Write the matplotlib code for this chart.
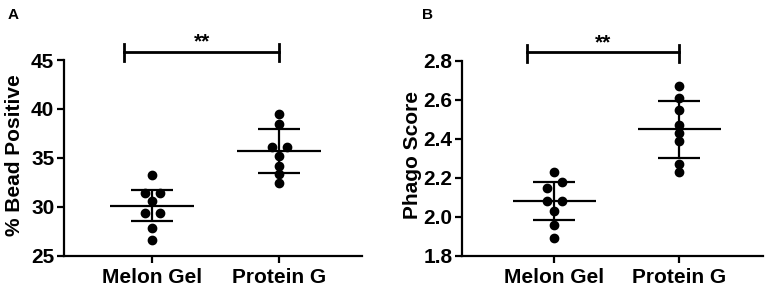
import numpy as np
import matplotlib; matplotlib.use("Agg")
import matplotlib.pyplot as plt
from matplotlib.transforms import blended_transform_factory

plt.rcParams.update({
    "font.family": ["Liberation Sans", "DejaVu Sans"], "font.weight": "bold", "font.size": 15,
    "axes.linewidth": 1.6, "xtick.major.width": 1.6, "ytick.major.width": 1.6,
    "xtick.major.size": 5, "ytick.major.size": 5,
    "axes.spines.top": False, "axes.spines.right": False,
})

groups = ["Melon Gel", "Protein G"]
# panel A: % bead positive
bead_melon = [33.2, 31.4, 31.4, 30.6, 29.4, 29.4, 27.8, 26.6]
bead_protg = [39.5, 38.5, 36.1, 36.1, 35.2, 34.2, 33.4, 32.4]
bead_mean = [30.1, 35.7]
bead_sd = [1.6, 2.2]
# panel B: phago score
phago_melon = [2.23, 2.18, 2.15, 2.08, 2.08, 2.03, 1.96, 1.89]
phago_protg = [2.67, 2.61, 2.55, 2.47, 2.43, 2.39, 2.27, 2.23]
phago_mean = [2.08, 2.45]
phago_sd = [0.097, 0.147]

def swarm_x(vals, px_per_unit, diam=7.0, dx=0.06):
    # spread points horizontally when they would overlap vertically
    v = np.sort(np.asarray(vals))
    xs = np.zeros(len(v)); i = 0
    while i < len(v):
        j = i
        while j + 1 < len(v) and (v[j+1] - v[j]) * px_per_unit < diam: j += 1
        n = j - i + 1
        xs[i:j+1] = (np.arange(n) - (n - 1) / 2) * 2 * dx
        i = j + 1
    return v, xs

def panel(ax, data, mean, sd, ylim, yticks, tick_fmt, bar_y):
    ppu = 195.5 / (ylim[1] - ylim[0])
    for k, vals in enumerate(data):
        v, xo = swarm_x(vals, ppu)
        ax.plot(k + xo, v, "o", color="black", ms=6, zorder=5, clip_on=False)
    x = np.arange(len(groups))
    ax.errorbar(x, mean, yerr=sd, fmt="none", ecolor="black", elinewidth=1.6,
                capsize=15, capthick=1.6, zorder=3)
    ax.hlines(mean, x - 0.33, x + 0.33, color="black", lw=1.6, zorder=3)
    ax.set_xticks(x); ax.set_xticklabels(groups)
    ax.set_ylim(*ylim); ax.set_yticks(yticks)
    ax.yaxis.set_major_formatter(plt.FormatStrFormatter(tick_fmt))
    ax.tick_params(axis="y", pad=2); ax.tick_params(axis="x", pad=4)
    tr = blended_transform_factory(ax.transData, ax.transAxes)
    ax.plot([-0.22, 1.0], [bar_y, bar_y], color="black", lw=2, transform=tr, clip_on=False)
    for xe in (-0.22, 1.0):
        ax.plot([xe, xe], [0.995, 1.08], color="black", lw=2, transform=tr, clip_on=False)
    ax.text(0.39, bar_y + 0.05, "**", ha="center", va="center", fontsize=15,
            fontweight="bold", transform=tr)

fig = plt.figure(figsize=(7.65, 2.88), dpi=100)
axA = fig.add_axes([64 / 765, 32.3 / 288, 297.7 / 765, 195.7 / 288])
axB = fig.add_axes([462 / 765, 32.3 / 288, 301.3 / 765, 194.7 / 288])

panel(axA, [bead_melon, bead_protg], bead_mean, bead_sd, (25, 45), [25, 30, 35, 40, 45],
      "%d", 1.042)
axA.set_xlim(-0.693, 1.646)
panel(axB, [phago_melon, phago_protg], phago_mean, phago_sd, (1.8, 2.8),
      [1.8, 2.0, 2.2, 2.4, 2.6, 2.8], "%.1f", 1.045)
axB.set_xlim(-0.737, 1.670)

fig.text(14.5 / 765, 1 - 155 / 288, "% Bead Positive", rotation=90, ha="center", va="center",
         fontsize=15, fontweight="bold")
fig.text(412 / 765, 1 - 155 / 288, "Phago Score", rotation=90, ha="center", va="center",
         fontsize=15, fontweight="bold")
fig.text(8 / 765, 1 - 19 / 288, "A", fontsize=11, fontweight="bold")
fig.text(422 / 765, 1 - 19 / 288, "B", fontsize=11, fontweight="bold")

fig.savefig("out.png", dpi=100, facecolor="white")
